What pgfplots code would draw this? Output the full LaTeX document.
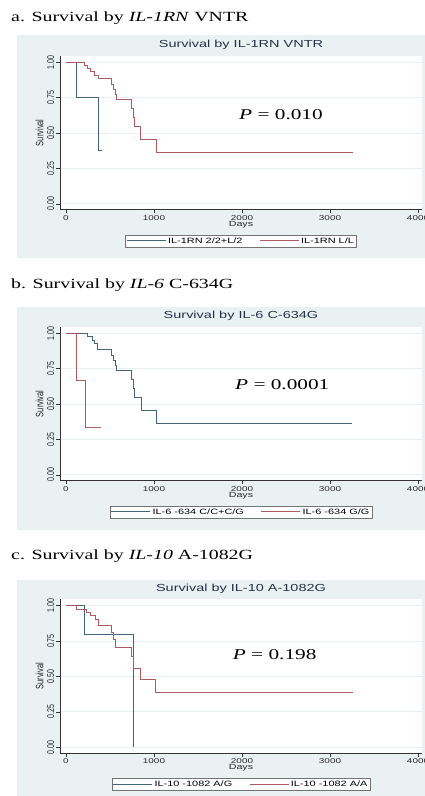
\documentclass[border=0pt]{standalone}
\usepackage{fontspec}
\setmainfont{Liberation Serif}
\setsansfont{Liberation Sans}
\usepackage{pgfplots}
\pgfplotsset{compat=1.18}
\definecolor{kmblue}{RGB}{66,100,124}
\definecolor{kmred}{RGB}{172,92,96}
\definecolor{panel}{RGB}{233,241,243}
\definecolor{gridc}{RGB}{232,240,242}
\definecolor{titc}{RGB}{35,50,70}
\newcommand\sx[1]{\scalebox{1.42}[1]{#1}}
\newcommand\sy[1]{\scalebox{1}[1.42]{#1}}
\pgfplotsset{
 km/.style={
  scale only axis, width=362pt, height=153.5pt,
  anchor=south west,
  xmin=-68, xmax=4045, ymin=-0.04, ymax=1.045,
  axis x line*=bottom, axis y line*=left,
  axis line style={-, draw=black!80, line width=0.6pt},
  tick align=outside, major tick length=4pt,
  tick style={draw=black!80, line width=0.6pt},
  xtick={0,1000,2000,3000,4000},
  xticklabels={\sx{0},\sx{1000},\sx{2000},\sx{3000},\sx{4000}},
  ytick={0,0.25,0.5,0.75,1},
  yticklabels={\sy{0.00},\sy{0.25},\sy{0.50},\sy{0.75},\sy{1.00}},
  ymajorgrids, grid style={draw=gridc, line width=0.8pt},
  axis background/.style={fill=white},
  ticklabel style={font=\sffamily\fontsize{7}{8}\selectfont, text=black!85},
  yticklabel style={rotate=90, anchor=south, inner sep=1.5pt},
  xticklabel style={anchor=north, inner sep=1.5pt},
  xlabel={\sx{Days}}, ylabel={\sy{Survival}},
  label style={font=\sffamily\fontsize{7.5}{8}\selectfont, text=black!85},
  xlabel style={at={(ticklabel cs:0.5)}, anchor=north, inner sep=0pt, yshift=1pt},
  ylabel style={at={(ticklabel cs:0.5)}, anchor=south, inner sep=2pt},
  title style={font=\sffamily\fontsize{10.2}{12}\selectfont, text=titc, at={(0.5,1)}, anchor=base, yshift=2pt},
  legend columns=2,
  legend style={at={(0.5,-0.205)}, anchor=center, draw=black!55, fill=white,
    font=\sffamily\fontsize{7.7}{9}\selectfont, inner sep=0.8pt,
    nodes={inner sep=1.8pt},
    /tikz/every even column/.append style={column sep=15pt}},
  legend image code/.code={\draw[#1] (0pt,0pt) -- (39pt,0pt);},
 },
 kmb/.style={kmblue, const plot, line width=1pt},
 kmr/.style={kmred, const plot, line width=1pt},
}
\begin{document}
\begin{tikzpicture}
\useasboundingbox (0,0) rectangle (425pt,796pt);
\clip (0,0) rectangle (425pt,796pt);
\fill[white] (0,0) rectangle (425pt,796pt);
\fill[panel] (17pt,538pt) rectangle (430pt,761pt);
\fill[panel] (17pt,266pt) rectangle (430pt,489.3pt);
\fill[panel] (17pt,-5pt) rectangle (430pt,216pt);
\node[anchor=base west, inner sep=0pt] at (11pt,774pt) {\sx{\fontsize{14}{16}\selectfont a. Survival by \textit{IL-1RN} VNTR}};
\node[anchor=base west, inner sep=0pt] at (11pt,507.7pt) {\sx{\fontsize{14}{16}\selectfont b. Survival by \textit{IL-6} C-634G}};
\node[anchor=base west, inner sep=0pt] at (11pt,236pt) {\sx{\fontsize{14}{16}\selectfont c. Survival by \textit{IL-10} A-1082G}};

% Panel a
\begin{axis}[km, at={(60pt,586.5pt)}, title={\sx{Survival by IL-1RN VNTR}}]
\addplot[kmb] coordinates {(0,1) (120,0.75) (375,0.375) (410,0.375)};
\addlegendentry{\sx{IL-1RN 2/2+L/2}}
\addplot[kmr] coordinates {(0,1) (216,0.977) (246,0.955) (284,0.932) (322,0.909) (367,0.886) (519,0.845) (538,0.81) (557,0.775) (576,0.74) (746,0.675) (765,0.61) (784,0.545) (841,0.458) (1023,0.365) (3265,0.365)};
\addlegendentry{\sx{IL-1RN L/L}}
\node[anchor=west, inner sep=0pt] at (axis cs:1966,0.628) {\sx{\fontsize{15}{17}\selectfont\textit{P} = 0.010}};
\end{axis}

% Panel b
\begin{axis}[km, at={(60pt,315.5pt)}, title={\sx{Survival by IL-6 C-634G}}]
\addplot[kmb] coordinates {(0,1) (242,0.976) (299,0.953) (322,0.93) (356,0.886) (519,0.845) (538,0.81) (557,0.775) (576,0.74) (746,0.675) (765,0.61) (784,0.545) (861,0.458) (1023,0.365) (3250,0.365)};
\addlegendentry{\sx{IL-6 -634 C/C+C/G}}
\addplot[kmr] coordinates {(0,1) (120,0.667) (222,0.333) (394,0.333)};
\addlegendentry{\sx{IL-6 -634 G/G}}
\node[anchor=west, inner sep=0pt] at (axis cs:1920,0.635) {\sx{\fontsize{15}{17}\selectfont\textit{P} = 0.0001}};
\end{axis}

% Panel c
\begin{axis}[km, at={(60pt,43.1pt)}, title={\sx{Survival by IL-10 A-1082G}}]
\addplot[kmb] coordinates {(0,1) (216,0.8) (765,0)};
\addlegendentry{\sx{IL-10 -1082 A/G}}
\addplot[kmr] coordinates {(0,1) (118,0.976) (235,0.952) (284,0.928) (333,0.904) (367,0.858) (519,0.81) (538,0.762) (557,0.706) (750,0.64) (768,0.56) (845,0.478) (1017,0.384) (3258,0.384)};
\addlegendentry{\sx{IL-10 -1082 A/A}}
\node[anchor=west, inner sep=0pt] at (axis cs:1894,0.652) {\sx{\fontsize{15}{17}\selectfont\textit{P} = 0.198}};
\end{axis}
\end{tikzpicture}
\end{document}
